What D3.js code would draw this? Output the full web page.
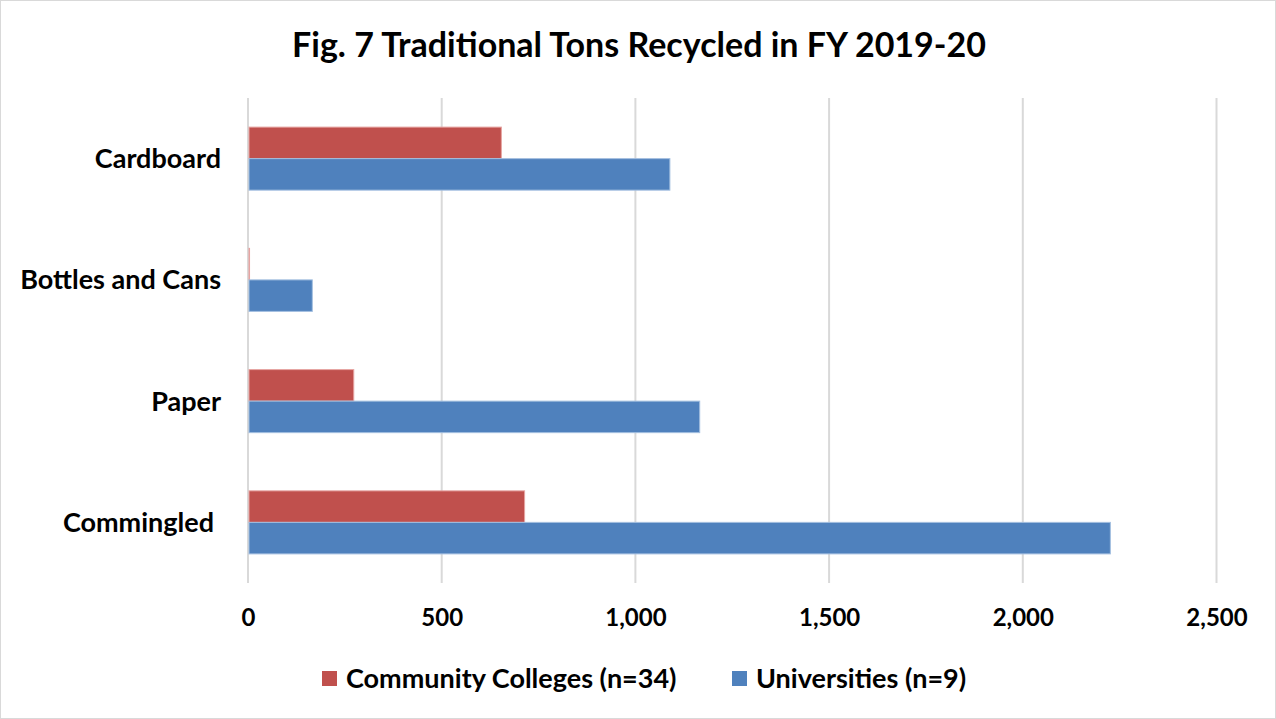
<!DOCTYPE html>
<html>
<head>
<meta charset="utf-8">
<script src="https://cdn.jsdelivr.net/npm/d3@7"></script>
<style>
  html, body { margin: 0; padding: 0; background: #fff; }
  text { font-family: Lato, "Open Sans", sans-serif; font-weight: bold; fill: #000; }
</style>
</head>
<body>
<svg id="chart" width="1276" height="719"></svg>
<script>
// Tons recycled by material, FY 2019-20
const categories = ["Cardboard", "Bottles and Cans", "Paper", "Commingled"];
const seriesNames = ["Community Colleges (n=34)", "Universities (n=9)"];
const communityColleges = [654, 4, 273, 714];
const universities = [1089, 166, 1166, 2226];
const xTicks = [0, 500, 1000, 1500, 2000, 2500];
const colors = ["#C0504D", "#4F81BD"];

const svg = d3.select("#chart");
const W = 1276, H = 719;

// outer frame
svg.append("rect")
  .attr("x", 0.5).attr("y", 0.5)
  .attr("width", W - 1).attr("height", H - 1)
  .attr("fill", "#fff").attr("stroke", "#d9d9d9");

const margin = { left: 248, right: 1276 - 1216.5, top: 98, bottom: 719 - 583 };

const x = d3.scaleLinear()
  .domain([0, 2500])
  .range([margin.left, W - margin.right]);

const y = d3.scaleBand()
  .domain(categories)
  .range([margin.top, H - margin.bottom])
  .paddingInner(0.48)
  .paddingOuter(0.24);

const ySub = d3.scaleBand()
  .domain([0, 1])
  .range([0, y.bandwidth()]);

// title
svg.append("text")
  .attr("x", 639).attr("y", 57)
  .attr("text-anchor", "middle")
  .style("font-size", "34px")
  .text("Fig. 7 Traditional Tons Recycled in FY 2019-20");

// vertical gridlines
svg.append("g")
  .selectAll("line")
  .data(xTicks)
  .join("line")
  .attr("x1", d => x(d)).attr("x2", d => x(d))
  .attr("y1", margin.top).attr("y2", H - margin.bottom)
  .attr("stroke", "#d9d9d9")
  .attr("stroke-width", 2);

// bars
const rows = categories.map((c, i) => ({ c, vals: [communityColleges[i], universities[i]] }));
const groups = svg.append("g")
  .selectAll("g")
  .data(rows)
  .join("g")
  .attr("transform", d => `translate(0,${y(d.c)})`);

groups.selectAll("rect")
  .data(d => d.vals.map((v, k) => ({ v, k })))
  .join("rect")
  .attr("x", x(0) + 1)
  .attr("y", d => ySub(d.k))
  .attr("width", d => Math.max(0, x(d.v) - x(0) - 1))
  .attr("height", ySub.bandwidth())
  .attr("fill", d => colors[d.k])
  .attr("stroke", d => d.k === 0 ? "#e6a4a2" : "#a3bfe0")
  .attr("stroke-width", 1);

// category labels
const yAxis = d3.axisLeft(y).tickSize(0).tickPadding(0);
const yg = svg.append("g")
  .attr("transform", `translate(${margin.left - 27},0)`)
  .call(yAxis);
yg.select(".domain").remove();
yg.selectAll("text")
  .style("font-size", "27px")
  .attr("x", d => d === "Commingled" ? -7 : 0)
  .attr("dy", "0.35em");

// value axis labels
const xAxis = d3.axisBottom(x)
  .tickValues(xTicks)
  .tickFormat(d3.format(","))
  .tickSize(0)
  .tickPadding(0);
const xg = svg.append("g")
  .attr("transform", `translate(0,${H - margin.bottom + 26})`)
  .call(xAxis);
xg.select(".domain").remove();
xg.selectAll("text")
  .style("font-size", "24px")
  .attr("dy", "0.71em");

// legend
const legendItems = [
  { name: seriesNames[0], color: colors[0], x: 322 },
  { name: seriesNames[1], color: colors[1], x: 732 }
];
const lg = svg.append("g")
  .selectAll("g")
  .data(legendItems)
  .join("g")
  .attr("transform", d => `translate(${d.x},671)`);
lg.append("rect")
  .attr("width", 15).attr("height", 15)
  .attr("fill", d => d.color);
lg.append("text")
  .attr("x", 24).attr("y", 8)
  .attr("dy", "0.35em")
  .style("font-size", "27px")
  .text(d => d.name);
</script>
</body>
</html>
